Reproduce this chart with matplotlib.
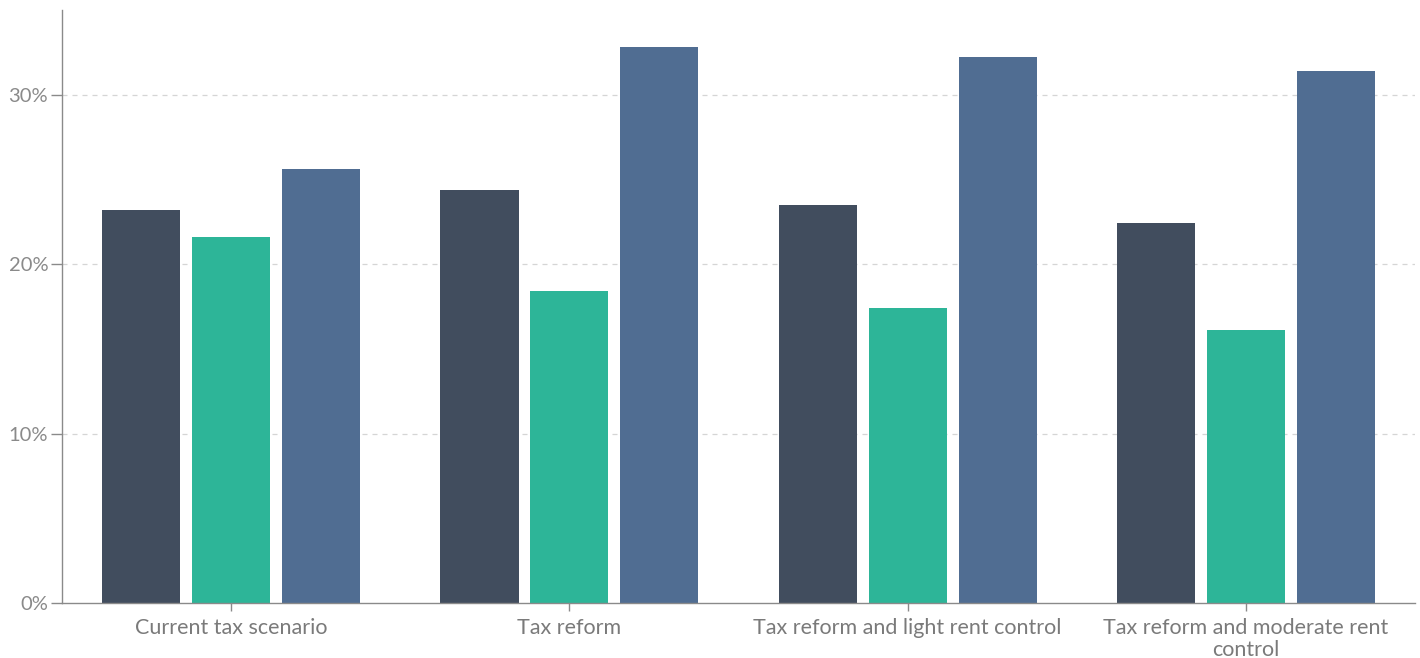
import numpy as np
import matplotlib
matplotlib.use("Agg")
import matplotlib.pyplot as plt
from matplotlib.ticker import FuncFormatter

categories = ["Current tax scenario", "Tax reform", "Tax reform and light rent control",
              "Tax reform and moderate rent\ncontrol"]
series_dark = [23.2, 24.4, 23.5, 22.4]
series_green = [21.6, 18.4, 17.4, 16.1]
series_blue = [25.6, 32.8, 32.2, 31.4]

colors = ["#414d5e", "#2db598", "#506d92"]

plt.rcParams['font.family'] = ['Lato', 'DejaVu Sans']

fig = plt.figure(figsize=(14.2, 6.58), dpi=100)
ax = fig.add_axes([0.0437, 0.0836, 0.9528, 0.9014])

x = np.arange(len(categories))
width = 0.231
step = 0.266
for i, (vals, c) in enumerate(zip([series_dark, series_green, series_blue], colors)):
    ax.bar(x + (i - 1) * step, vals, width=width, color=c, zorder=2)

ax.set_xlim(-0.5, 3.5)
ax.set_ylim(0, 35)
ax.set_yticks([0, 10, 20, 30])
ax.yaxis.set_major_formatter(FuncFormatter(lambda v, p: f"{v:.0f}%"))
ax.set_xticks(x)
ax.set_xticklabels(categories, linespacing=1.1)

for yv in [10, 20, 30]:
    ax.axhline(yv, color="#d5d5d5", linestyle=(0, (4, 4)), linewidth=0.9, zorder=1)

for s in ["top", "right"]:
    ax.spines[s].set_visible(False)
for s in ["left", "bottom"]:
    ax.spines[s].set_color("#8a8a8a")
    ax.spines[s].set_linewidth(1.0)

ax.tick_params(axis="y", length=8, width=1, color="#8a8a8a", labelcolor="#8a8a8a",
               labelsize=14.5, pad=2)
ax.tick_params(axis="x", length=6, width=1, color="#8a8a8a", labelcolor="#7a7a7a",
               labelsize=15.5, pad=5)

fig.savefig("out.png", dpi=100, facecolor="white")
